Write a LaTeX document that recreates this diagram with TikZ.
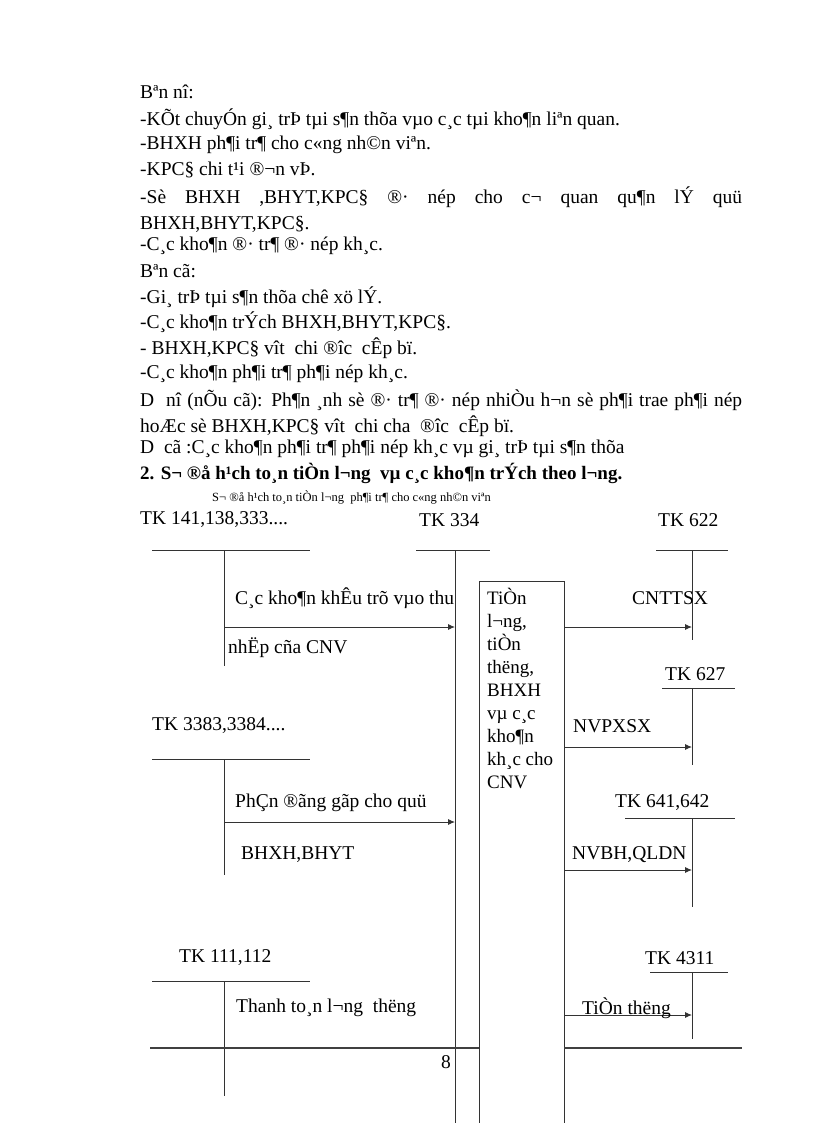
\documentclass[tikz,border=0pt]{standalone}
\usepackage{fontspec}
\setmainfont{Liberation Serif}
\usetikzlibrary{arrows.meta}
\begin{document}
\begin{tikzpicture}[x=1pt,y=-1pt,
  txt/.style={anchor=west,inner sep=0pt,font=\fontsize{19.5}{25.5}\selectfont},
  para/.style={anchor=north west,inner sep=0pt,text width=602pt,align=justify,font=\fontsize{19.5}{25.5}\selectfont},
  ln/.style={line width=0.9pt,draw=black!80},
  arr/.style={line width=0.9pt,draw=black!80,-{Latex[length=7pt,width=6pt]}}]
\useasboundingbox (0,0) rectangle (816,1123);
% text block
\node[txt] (t1) at (140,92) {Bªn nî:};
\node[txt] (t2) at (140,119) {-KÕt chuyÓn gi¸ trÞ tµi s¶n thõa vµo c¸c tµi kho¶n liªn quan.};
\node[txt] (t3) at (140,145) {-BHXH ph¶i tr¶ cho c«ng nh©n viªn.};
\node[txt] (t4) at (140,170) {-KPC§ chi t¹i ®¬n vÞ.};
\node[para] (t5) at (140,187) {-Sè BHXH ,BHYT,KPC§ ®· nép cho c¬ quan qu¶n lÝ quü\linebreak BHXH,BHYT,KPC§.};
\node[txt] (t6) at (140,246) {-C¸c kho¶n ®· tr¶ ®· nép kh¸c.};
\node[txt] (t7) at (140,271) {Bªn cã:};
\node[txt] (t8) at (140,297) {-Gi¸ trÞ tµi s¶n thõa chê xö lÝ.};
\node[txt] (t9) at (140,322) {-C¸c kho¶n trÝch BHXH,BHYT,KPC§.};
\node[txt] (t10) at (140,348) {- BHXH,KPC§ vît\ \ chi ®îc\ \ cÊp bï.};
\node[txt] (t11) at (140,374) {-C¸c kho¶n ph¶i tr¶ ph¶i nép kh¸c.};
\node[para] (t12) at (140,390) {D\ \ nî (nÕu cã): Ph¶n ¸nh sè ®· tr¶ ®· nép nhiÒu h¬n sè ph¶i trae ph¶i nép\linebreak hoÆc sè BHXH,KPC§ vît\ \ chi cha\ \ ®îc\ \ cÊp bï.};
\node[txt] (t13) at (140,449) {D\ \ cã :C¸c kho¶n ph¶i tr¶ ph¶i nép kh¸c vµ gi¸ trÞ tµi s¶n thõa};
\node[txt,font=\fontsize{19}{20}\selectfont\bfseries] (t14) at (140,473) {2. S¬ ®å h¹ch to¸n tiÒn l¬ng\ \ vµ c¸c kho¶n trÝch theo l¬ng.};
\node[txt,font=\fontsize{12.5}{13}\selectfont] (t15) at (212,497) {S¬ ®å h¹ch to¸n tiÒn l¬ng\ \ ph¶i tr¶ cho c«ng nh©n viªn};
% accounts left
\node[txt] (a1) at (140,520) {TK 141,138,333....};
\draw[ln] (152,550) -- (310,550); \coordinate (a1t) at (224,550); \coordinate (a1b) at (224,666); \draw[ln] (a1t) -- (a1b);
\node[txt] (a2) at (152,726) {TK 3383,3384....};
\draw[ln] (152,759) -- (310,759); \coordinate (a2t) at (224,759); \coordinate (a2b) at (224,875); \draw[ln] (a2t) -- (a2b);
\node[txt] (a3) at (179,958) {TK 111,112};
\draw[ln] (152,981) -- (310,981); \coordinate (a3t) at (224,981); \coordinate (a3b) at (224,1096); \draw[ln] (a3t) -- (a3b);
% TK 334
\node[txt] (c) at (419,520) {TK 334};
\draw[ln] (416,550) -- (490,550); \coordinate (ct) at (455,550); \coordinate (cb) at (455,1123); \draw[ln] (ct) -- (cb);
% box
\coordinate (bl) at (479,1123); \coordinate (br) at (564,1123);
\draw[ln] (bl) |- (564,581) -- (br);
\node[anchor=north west,inner sep=0pt,align=left,font=\fontsize{19}{23}\selectfont] (bt) at (487,588) {TiÒn\\l¬ng,\\tiÒn\\thëng,\\BHXH\\vµ c¸c\\kho¶n\\kh¸c cho\\CNV};
% right accounts
\node[txt] (r1) at (658,520) {TK 622};
\draw[ln] (656,550) -- (728,550); \coordinate (r1t) at (692,550); \coordinate (r1b) at (692,640); \draw[ln] (r1t) -- (r1b);
\node[txt] (r2) at (665,674) {TK 627};
\draw[ln] (662,688) -- (735,688); \coordinate (r2t) at (692,688); \coordinate (r2b) at (692,765); \draw[ln] (r2t) -- (r2b);
\node[txt] (r3) at (615,803) {TK 641,642};
\draw[ln] (625,818) -- (735,818); \coordinate (r3t) at (692,818); \coordinate (r3b) at (692,907); \draw[ln] (r3t) -- (r3b);
\node[txt] (r4) at (645,958) {TK 4311};
\draw[ln] (650,972) -- (728,972); \coordinate (r4t) at (692,972); \coordinate (r4b) at (692,1039); \draw[ln] (r4t) -- (r4b);
% arrows left
\coordinate (l1) at (224,627); \coordinate (l1e) at (455,627); \draw[arr] (l1) -- (l1e);
\node[txt] at (235,598) {C¸c kho¶n khÊu trõ vµo thu};
\node[txt] at (228,648) {nhËp cña CNV};
\coordinate (l2) at (224,822); \coordinate (l2e) at (455,822); \draw[arr] (l2) -- (l2e);
\node[txt] at (235,803) {PhÇn ®ãng gãp cho quü};
\node[txt] at (241,855) {BHXH,BHYT};
\node[txt] at (236,1008) {Thanh to¸n l¬ng\ \ thëng};
% arrows right
\coordinate (m1) at (564,627); \coordinate (m1e) at (692,627); \draw[arr] (m1) -- (m1e);
\node[txt] at (632,598) {CNTTSX};
\coordinate (m2) at (564,747); \coordinate (m2e) at (692,747); \draw[arr] (m2) -- (m2e);
\node[txt] at (573,726) {NVPXSX};
\coordinate (m3) at (564,870); \coordinate (m3e) at (692,870); \draw[arr] (m3) -- (m3e);
\node[txt] at (572,855) {NVBH,QLDN};
\coordinate (m4) at (564,1015); \coordinate (m4e) at (692,1015); \draw[arr] (m4) -- (m4e);
\node[txt] at (582,1008) {TiÒn thëng};
% bottom line
\draw[line width=1.4pt,draw=black!75] (150,1048) -- (479,1048) (564,1048) -- (742,1048);
\node[txt] at (441,1062) {8};
\end{tikzpicture}
\end{document}
